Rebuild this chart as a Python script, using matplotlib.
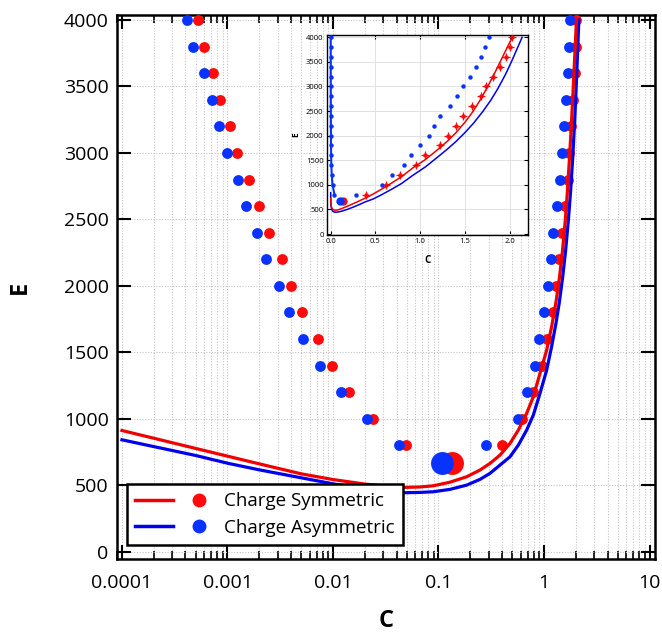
import matplotlib
matplotlib.use("Agg")
import matplotlib.pyplot as plt
from matplotlib.lines import Line2D
from matplotlib.legend_handler import HandlerTuple
from matplotlib.ticker import LogLocator, NullFormatter

plt.rcParams['font.family'] = ['Open Sans', 'DejaVu Sans']

# ---------------- data ----------------
E_pts = [800, 1000, 1200, 1400, 1600, 1800, 2000, 2200, 2400, 2600,
         2800, 3000, 3200, 3400, 3600, 3800, 4000]

sym_left_C = [0.0492, 0.0241, 0.01429, 0.00977, 0.00721, 0.00508, 0.00397,
              0.00326, 0.00249, 0.0020, 0.0016, 0.00124, 0.001056, 0.000849,
              0.000734, 0.000603, 0.000528]
asym_left_C = [0.0423, 0.02085, 0.01183, 0.00746, 0.00516, 0.00387, 0.0031,
               0.00233, 0.00189, 0.00149, 0.00126, 0.000982, 0.000837,
               0.000713, 0.000598, 0.000474, 0.000416]
sym_right_C = [0.40, 0.62, 0.78, 0.95, 1.06, 1.22, 1.31, 1.40, 1.48, 1.585,
               1.68, 1.735, 1.815, 1.89, 1.96, 2.00, 2.03]
asym_right_C = [0.28, 0.57, 0.69, 0.82, 0.895, 1.00, 1.10, 1.16, 1.22, 1.33,
                1.41, 1.475, 1.555, 1.62, 1.675, 1.72, 1.77]

big_sym = (0.133, 670)
big_asym = (0.107, 670)

sym_curve_C = [0.0001, 0.0002, 0.0005, 0.001, 0.002, 0.005, 0.01, 0.02, 0.03,
               0.0481, 0.0668, 0.0893, 0.1285, 0.185, 0.247, 0.307, 0.383,
               0.476, 0.571, 0.685, 0.792, 0.916, 1.06, 1.18, 1.30, 1.40,
               1.50, 1.59, 1.67, 1.75, 1.83, 1.90, 1.97, 2.03]
sym_curve_E = [911, 853, 776, 718, 660, 585, 542, 508, 494,
               483, 486, 495, 522, 563, 613, 663, 726,
               814, 914, 1040, 1165, 1341, 1516, 1691, 1880, 2060,
               2270, 2490, 2720, 2980, 3260, 3520, 3780, 4000]
asym_curve_C = [0.0001, 0.0002, 0.0005, 0.001, 0.002, 0.005, 0.01, 0.02, 0.03,
                0.0481, 0.0668, 0.0893, 0.1285, 0.185, 0.247, 0.307, 0.383,
                0.476, 0.571, 0.685, 0.792, 0.916, 1.06, 1.18, 1.30, 1.40,
                1.50, 1.60, 1.70, 1.79, 1.87, 1.95, 2.02, 2.08, 2.14]
asym_curve_E = [841, 790, 723, 665, 615, 555, 510, 471, 455,
                443, 445, 450, 468, 500, 543, 588, 651,
                713, 801, 914, 1027, 1190, 1366, 1541, 1720, 1880,
                2060, 2260, 2490, 2720, 2960, 3230, 3500, 3750, 4000]

labels = ['Charge Symmetric', 'Charge Asymmetric']
x_ticks = [0.0001, 0.001, 0.01, 0.1, 1, 10]
x_ticklabels = ['0.0001', '0.001', '0.01', '0.1', '1', '10']
y_ticks = [0, 500, 1000, 1500, 2000, 2500, 3000, 3500, 4000]
in_x_ticks = [0.0, 0.5, 1.0, 1.5, 2.0]
in_x_ticklabels = ['0.0', '0.5', '1.0', '1.5', '2.0']

RED = '#ff0a0a'
BLUE = '#0a32ff'
RED_L = '#f00000'
BLUE_L = '#0000f0'

W, H = 662, 634
fig = plt.figure(figsize=(W / 100, H / 100), dpi=100)

# ---------------- main axes ----------------
ax = fig.add_axes([117 / W, 1 - 559 / H, (655 - 117) / W, (559 - 15) / H])
ax.set_xscale('log')
ax.set_xlim(10 ** -4.047, 10 ** 1.052)
ax.set_ylim(-56, 4038)

ax.plot(sym_left_C, E_pts, 'o', color=RED, ms=7.8, mec='none', zorder=3)
ax.plot(sym_right_C, E_pts, 'o', color=RED, ms=7.8, mec='none', zorder=3)
ax.plot([big_sym[0]], [big_sym[1]], 'o', color=RED, ms=16.5, mec='none', zorder=3)
ax.plot(asym_left_C, E_pts, 'o', color=BLUE, ms=7.8, mec='none', zorder=4)
ax.plot(asym_right_C, E_pts, 'o', color=BLUE, ms=7.8, mec='none', zorder=4)
ax.plot([big_asym[0]], [big_asym[1]], 'o', color=BLUE, ms=16.5, mec='none', zorder=4)
ax.plot(asym_curve_C, asym_curve_E, '-', color=BLUE_L, lw=2.3, zorder=5)
ax.plot(sym_curve_C, sym_curve_E, '-', color=RED_L, lw=2.3, zorder=5)

ax.set_xticks(x_ticks)
ax.set_xticklabels(x_ticklabels)
ax.xaxis.set_minor_locator(LogLocator(base=10, subs=range(2, 10)))
ax.xaxis.set_minor_formatter(NullFormatter())
ax.set_yticks(y_ticks)
ax.tick_params(which='both', direction='in', top=True, right=True,
               labelsize=14, width=1.5)
ax.tick_params(which='major', length=10)
ax.tick_params(which='minor', length=6, width=1.2)
ax.tick_params(axis='x', pad=11)
ax.tick_params(axis='y', pad=6)
for s in ax.spines.values():
    s.set_linewidth(1.8)

ax.grid(which='major', axis='both', color='#c4c4c4', lw=0.8, ls=(0, (1, 1.5)))
ax.grid(which='minor', axis='x', color='#c4c4c4', lw=0.8, ls=(0, (1, 1.5)))
ax.set_axisbelow(True)

ax.set_xlabel('C', fontsize=17, fontweight='bold', labelpad=12)
ax.set_ylabel('E', fontsize=17, fontweight='bold', labelpad=23)

h_sym = (Line2D([], [], color=RED_L, lw=2.5),
         Line2D([], [], color=RED, marker='o', ls='none', ms=10, mec='none'))
h_asym = (Line2D([], [], color=BLUE_L, lw=2.5),
          Line2D([], [], color=BLUE, marker='o', ls='none', ms=10, mec='none'))
leg = ax.legend([h_sym, h_asym], labels,
                handler_map={tuple: HandlerTuple(ndivide=None, pad=0.35)},
                handlelength=4.4, handletextpad=0.3, loc='lower left',
                bbox_to_anchor=(10 / 538, 14 / 544), borderaxespad=0,
                frameon=True, fancybox=False, edgecolor='black', framealpha=1,
                fontsize=13.5, borderpad=0.45, labelspacing=0.45)
leg.get_frame().set_linewidth(1.8)
leg.set_zorder(10)

# ---------------- inset ----------------
axi = fig.add_axes([327 / W, 1 - 235 / H, 201 / W, 200 / H])
axi.set_facecolor('white')
axi.set_xlim(-0.041, 2.206)
axi.set_ylim(-20, 4047)

axi.plot(sym_right_C, E_pts, 'o', color=RED, ms=3.2, mec='none', zorder=3)
axi.plot(sym_right_C, E_pts, '+', color=RED, ms=6, mew=0.9, zorder=3)
axi.plot([big_sym[0]], [big_sym[1]], 'o', color=RED, ms=6, mec='none', zorder=3)
axi.plot(asym_right_C, E_pts, 'o', color=BLUE, ms=3.2, mec='none', zorder=4)
axi.plot(asym_left_C, E_pts, '-o', color=BLUE, ms=3.2, mec='none', lw=1.5, zorder=4)
axi.plot([big_asym[0]], [big_asym[1]], 'o', color=BLUE, ms=6, mec='none', zorder=4)
axi.plot(asym_curve_C, asym_curve_E, '-', color=BLUE_L, lw=1.1, zorder=5)
axi.plot(sym_curve_C[3:], sym_curve_E[3:], '-', color=RED_L, lw=1.1, zorder=5)

axi.set_xticks(in_x_ticks)
axi.set_xticklabels(in_x_ticklabels)
axi.set_yticks(y_ticks)
axi.tick_params(which='both', direction='in', top=True, right=True,
                labelsize=5.5, length=3, width=0.8, pad=2.5)
for s in axi.spines.values():
    s.set_linewidth(1.0)
axi.grid(True, color='#e2e2e2', lw=0.7)
axi.set_axisbelow(True)
axi.set_xlabel('C', fontsize=7, fontweight='bold', labelpad=7)
axi.set_ylabel('E', fontsize=6, fontweight='bold', labelpad=4)

fig.savefig('out.png', dpi=100)
